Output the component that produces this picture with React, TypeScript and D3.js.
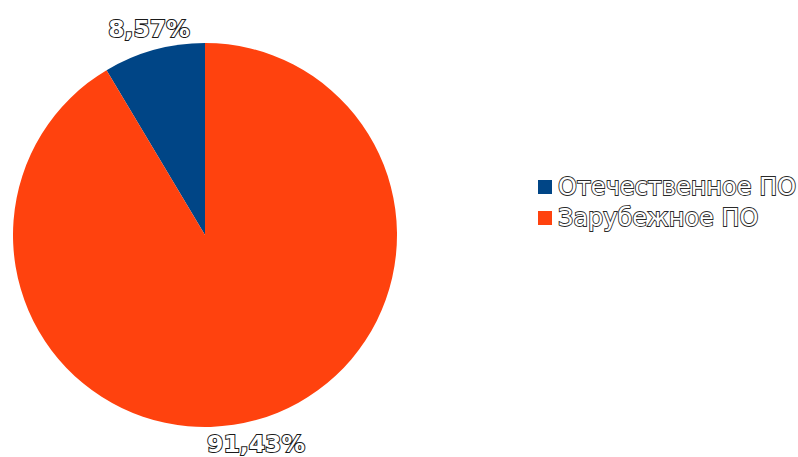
import React from "react";
import * as d3 from "d3";

const categories = ["Отечественное ПО", "Зарубежное ПО"];
const values = [8.57, 91.43];
const labels = ["8,57%", "91,43%"];
const colors = ["#004586", "#ff420e"];

export default function App() {
  const W = 798, H = 457;
  const cx = 205, cy = 235, r = 192;
  const pie = d3.pie<number>().sort(null).value((d) => d).startAngle(0).endAngle(-2 * Math.PI);
  const arcs = pie(values);
  const arc = d3.arc<d3.PieArcDatum<number>>().innerRadius(0).outerRadius(r);
  const labelPos = [
    [149, 37],
    [256, 452],
  ];
  const textStyle = {
    fontFamily: "DejaVu Sans, sans-serif",
    fontWeight: 700 as const,
    fontSize: 23.5,
    fill: "#ffffff",
    stroke: "#1a1a1a",
    strokeWidth: 2,
    paintOrder: "stroke" as const,
  };
  return (
    <svg width={W} height={H} style={{ position: "absolute", left: 0, top: 0 }}>
      <rect width={W} height={H} fill="#fff" />
      <g transform={`translate(${cx},${cy})`}>
        {arcs.map((a, i) => (
          <path key={i} d={arc(a) || ""} fill={colors[i]} />
        ))}
      </g>
      {labels.map((l, i) => (
        <text key={i} x={labelPos[i][0]} y={labelPos[i][1]} textAnchor="middle" style={textStyle}>
          {l}
        </text>
      ))}
      {categories.map((c, i) => (
        <g key={c} transform={`translate(538,${180 + i * 31})`}>
          <rect width={14} height={14} fill={colors[i]} />
          <text
            x={20}
            y={15}
            style={{
              fontFamily: "DejaVu Sans, sans-serif",
              fontSize: 24,
              fill: "#fff",
              stroke: "#2a2a2a",
              strokeWidth: 1.8,
              paintOrder: "stroke",
            }}
          >
            {c}
          </text>
        </g>
      ))}
    </svg>
  );
}
